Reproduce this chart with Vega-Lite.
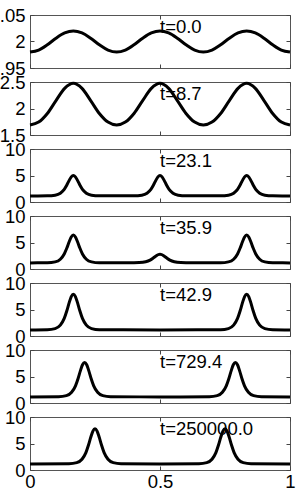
{
  "$schema": "https://vega.github.io/schema/vega-lite/v6.json",
  "autosize": {"type": "none"},
  "padding": {"left": 30, "top": 15, "right": 11, "bottom": 20},
  "background": "white",
  "bounds": "flush",
  "spacing": 14,
  "config": {
    "width": 260,
    "height": 455,
    "view": {"stroke": "#555", "strokeWidth": 1},
    "axis": {"grid": false, "domain": false, "labelFont": "Liberation Sans", "labelFontSize": 18.5, "labelColor": "black", "tickColor": "#444", "tickSize": -4, "labelPadding": 9, "labelFlush": false, "labelOverlap": false}
  },
  "datasets": {
    "p1": [{"x":0,"y":1.98},{"x":0.0333,"y":1.9838},{"x":0.0667,"y":1.9938},{"x":0.1,"y":2.0062},{"x":0.1333,"y":2.0162},{"x":0.1667,"y":2.02},{"x":0.2,"y":2.0162},{"x":0.2333,"y":2.0062},{"x":0.2667,"y":1.9938},{"x":0.3,"y":1.9838},{"x":0.3333,"y":1.98},{"x":0.3667,"y":1.9838},{"x":0.4,"y":1.9938},{"x":0.4333,"y":2.0062},{"x":0.4667,"y":2.0162},{"x":0.5,"y":2.02},{"x":0.5333,"y":2.0162},{"x":0.5667,"y":2.0062},{"x":0.6,"y":1.9938},{"x":0.6333,"y":1.9838},{"x":0.6667,"y":1.98},{"x":0.7,"y":1.9838},{"x":0.7333,"y":1.9938},{"x":0.7667,"y":2.0062},{"x":0.8,"y":2.0162},{"x":0.8333,"y":2.02},{"x":0.8667,"y":2.0162},{"x":0.9,"y":2.0062},{"x":0.9333,"y":1.9938},{"x":0.9667,"y":1.9838},{"x":1,"y":1.98}],
    "p2": [{"x":0,"y":1.689},{"x":0.0333,"y":1.7434},{"x":0.0667,"y":1.9063},{"x":0.1,"y":2.1491},{"x":0.1333,"y":2.3792},{"x":0.1667,"y":2.475},{"x":0.2,"y":2.3792},{"x":0.2333,"y":2.1491},{"x":0.2667,"y":1.9063},{"x":0.3,"y":1.7434},{"x":0.3333,"y":1.689},{"x":0.3667,"y":1.7434},{"x":0.4,"y":1.9063},{"x":0.4333,"y":2.1491},{"x":0.4667,"y":2.3792},{"x":0.5,"y":2.475},{"x":0.5333,"y":2.3792},{"x":0.5667,"y":2.1491},{"x":0.6,"y":1.9063},{"x":0.6333,"y":1.7434},{"x":0.6667,"y":1.689},{"x":0.7,"y":1.7434},{"x":0.7333,"y":1.9063},{"x":0.7667,"y":2.1491},{"x":0.8,"y":2.3792},{"x":0.8333,"y":2.475},{"x":0.8667,"y":2.3792},{"x":0.9,"y":2.1491},{"x":0.9333,"y":1.9063},{"x":0.9667,"y":1.7434},{"x":1,"y":1.689}],
    "p3": [{"x":0,"y":1.15},{"x":0.0667,"y":1.169},{"x":0.0967,"y":1.292},{"x":0.1167,"y":1.662},{"x":0.1317,"y":2.39},{"x":0.1417,"y":3.208},{"x":0.1507,"y":4.084},{"x":0.1587,"y":4.738},{"x":0.1667,"y":5.0},{"x":0.1747,"y":4.738},{"x":0.1827,"y":4.084},{"x":0.1917,"y":3.208},{"x":0.2017,"y":2.39},{"x":0.2167,"y":1.662},{"x":0.2367,"y":1.292},{"x":0.2667,"y":1.169},{"x":0.4,"y":1.169},{"x":0.43,"y":1.292},{"x":0.45,"y":1.662},{"x":0.465,"y":2.39},{"x":0.475,"y":3.208},{"x":0.484,"y":4.084},{"x":0.492,"y":4.738},{"x":0.5,"y":5.0},{"x":0.508,"y":4.738},{"x":0.516,"y":4.084},{"x":0.525,"y":3.208},{"x":0.535,"y":2.39},{"x":0.55,"y":1.662},{"x":0.57,"y":1.292},{"x":0.6,"y":1.169},{"x":0.7333,"y":1.169},{"x":0.7633,"y":1.292},{"x":0.7833,"y":1.662},{"x":0.7983,"y":2.39},{"x":0.8083,"y":3.208},{"x":0.8173,"y":4.084},{"x":0.8253,"y":4.738},{"x":0.8333,"y":5.0},{"x":0.8413,"y":4.738},{"x":0.8493,"y":4.084},{"x":0.8583,"y":3.208},{"x":0.8683,"y":2.39},{"x":0.8833,"y":1.662},{"x":0.9033,"y":1.292},{"x":0.9333,"y":1.169},{"x":1,"y":1.15}],
    "p4": [{"x":0,"y":1.15},{"x":0.0667,"y":1.176},{"x":0.0967,"y":1.344},{"x":0.1167,"y":1.848},{"x":0.1317,"y":2.841},{"x":0.1417,"y":3.956},{"x":0.1507,"y":5.15},{"x":0.1587,"y":6.043},{"x":0.1667,"y":6.4},{"x":0.1747,"y":6.043},{"x":0.1827,"y":5.15},{"x":0.1917,"y":3.956},{"x":0.2017,"y":2.841},{"x":0.2167,"y":1.848},{"x":0.2367,"y":1.344},{"x":0.2667,"y":1.176},{"x":0.38,"y":1.158},{"x":0.42,"y":1.211},{"x":0.445,"y":1.369},{"x":0.462,"y":1.681},{"x":0.473,"y":2.032},{"x":0.483,"y":2.407},{"x":0.492,"y":2.688},{"x":0.5,"y":2.8},{"x":0.508,"y":2.688},{"x":0.517,"y":2.407},{"x":0.527,"y":2.032},{"x":0.538,"y":1.681},{"x":0.555,"y":1.369},{"x":0.58,"y":1.211},{"x":0.62,"y":1.158},{"x":0.7333,"y":1.176},{"x":0.7633,"y":1.344},{"x":0.7833,"y":1.848},{"x":0.7983,"y":2.841},{"x":0.8083,"y":3.956},{"x":0.8173,"y":5.15},{"x":0.8253,"y":6.043},{"x":0.8333,"y":6.4},{"x":0.8413,"y":6.043},{"x":0.8493,"y":5.15},{"x":0.8583,"y":3.956},{"x":0.8683,"y":2.841},{"x":0.8833,"y":1.848},{"x":0.9033,"y":1.344},{"x":0.9333,"y":1.176},{"x":1,"y":1.15}],
    "p5": [{"x":0,"y":1.15},{"x":0.0667,"y":1.184},{"x":0.0967,"y":1.4},{"x":0.1167,"y":2.048},{"x":0.1317,"y":3.324},{"x":0.1417,"y":4.758},{"x":0.1507,"y":6.294},{"x":0.1587,"y":7.441},{"x":0.1667,"y":7.9},{"x":0.1747,"y":7.441},{"x":0.1827,"y":6.294},{"x":0.1917,"y":4.758},{"x":0.2017,"y":3.324},{"x":0.2167,"y":2.048},{"x":0.2367,"y":1.4},{"x":0.2667,"y":1.184},{"x":0.5,"y":1.15},{"x":0.7333,"y":1.184},{"x":0.7633,"y":1.4},{"x":0.7833,"y":2.048},{"x":0.7983,"y":3.324},{"x":0.8083,"y":4.758},{"x":0.8173,"y":6.294},{"x":0.8253,"y":7.441},{"x":0.8333,"y":7.9},{"x":0.8413,"y":7.441},{"x":0.8493,"y":6.294},{"x":0.8583,"y":4.758},{"x":0.8683,"y":3.324},{"x":0.8833,"y":2.048},{"x":0.9033,"y":1.4},{"x":0.9333,"y":1.184},{"x":1,"y":1.15}],
    "p6": [{"x":0,"y":1.15},{"x":0.11,"y":1.183},{"x":0.14,"y":1.391},{"x":0.16,"y":2.015},{"x":0.175,"y":3.243},{"x":0.185,"y":4.624},{"x":0.194,"y":6.103},{"x":0.202,"y":7.208},{"x":0.21,"y":7.65},{"x":0.218,"y":7.208},{"x":0.226,"y":6.103},{"x":0.235,"y":4.624},{"x":0.245,"y":3.243},{"x":0.26,"y":2.015},{"x":0.28,"y":1.391},{"x":0.31,"y":1.183},{"x":0.5,"y":1.15},{"x":0.69,"y":1.183},{"x":0.72,"y":1.391},{"x":0.74,"y":2.015},{"x":0.755,"y":3.243},{"x":0.765,"y":4.624},{"x":0.774,"y":6.103},{"x":0.782,"y":7.208},{"x":0.79,"y":7.65},{"x":0.798,"y":7.208},{"x":0.806,"y":6.103},{"x":0.815,"y":4.624},{"x":0.825,"y":3.243},{"x":0.84,"y":2.015},{"x":0.86,"y":1.391},{"x":0.89,"y":1.183},{"x":1,"y":1.15}],
    "p7": [{"x":0,"y":1.15},{"x":0.15,"y":1.183},{"x":0.18,"y":1.396},{"x":0.2,"y":2.034},{"x":0.215,"y":3.291},{"x":0.225,"y":4.704},{"x":0.234,"y":6.217},{"x":0.242,"y":7.348},{"x":0.25,"y":7.8},{"x":0.258,"y":7.348},{"x":0.266,"y":6.217},{"x":0.275,"y":4.704},{"x":0.285,"y":3.291},{"x":0.3,"y":2.034},{"x":0.32,"y":1.396},{"x":0.35,"y":1.183},{"x":0.5,"y":1.15},{"x":0.65,"y":1.183},{"x":0.68,"y":1.396},{"x":0.7,"y":2.034},{"x":0.715,"y":3.291},{"x":0.725,"y":4.704},{"x":0.734,"y":6.217},{"x":0.742,"y":7.348},{"x":0.75,"y":7.8},{"x":0.758,"y":7.348},{"x":0.766,"y":6.217},{"x":0.775,"y":4.704},{"x":0.785,"y":3.291},{"x":0.8,"y":2.034},{"x":0.82,"y":1.396},{"x":0.85,"y":1.183},{"x":1,"y":1.15}]
  },
  "vconcat": [
    {"width": 260, "height": 53, "resolve": {"axis": {"x": "independent", "y": "independent"}}, "layer": [
      {"data": {"name": "p1"}, "mark": {"type": "line", "color": "black", "strokeWidth": 3, "interpolate": "monotone"},
       "encoding": {"x": {"field": "x", "type": "quantitative", "scale": {"domain": [0, 1]}, "axis": {"values": [0, 0.5, 1], "labels": false, "title": null}},
                    "y": {"field": "y", "type": "quantitative", "scale": {"domain": [1.95, 2.05]}, "axis": {"values": [1.95, 2, 2.05], "format": "~f", "title": null}}}},
      {"data": {"name": "p1"}, "mark": {"type": "line", "opacity": 0},
       "encoding": {"x": {"field": "x", "type": "quantitative", "axis": {"orient": "top", "values": [0, 0.5, 1], "labels": false, "title": null}},
                    "y": {"field": "y", "type": "quantitative", "axis": {"orient": "right", "values": [1.95, 2, 2.05], "labels": false, "title": null}}}},
      {"data": {"values": [{"label": "t=0.0"}]}, "mark": {"type": "text", "align": "left", "baseline": "alphabetic", "dy": 18, "fontSize": 18.5, "font": "Liberation Sans", "color": "black"},
       "encoding": {"x": {"datum": 0.5, "axis": null}, "y": {"datum": 2.05, "axis": null}, "text": {"field": "label"}}}
    ]},
    {"width": 260, "height": 53, "resolve": {"axis": {"x": "independent", "y": "independent"}}, "layer": [
      {"data": {"name": "p2"}, "mark": {"type": "line", "color": "black", "strokeWidth": 3, "interpolate": "monotone"},
       "encoding": {"x": {"field": "x", "type": "quantitative", "scale": {"domain": [0, 1]}, "axis": {"values": [0, 0.5, 1], "labels": false, "title": null}},
                    "y": {"field": "y", "type": "quantitative", "scale": {"domain": [1.5, 2.5]}, "axis": {"values": [1.5, 2, 2.5], "format": "~f", "title": null}}}},
      {"data": {"name": "p2"}, "mark": {"type": "line", "opacity": 0},
       "encoding": {"x": {"field": "x", "type": "quantitative", "axis": {"orient": "top", "values": [0, 0.5, 1], "labels": false, "title": null}},
                    "y": {"field": "y", "type": "quantitative", "axis": {"orient": "right", "values": [1.5, 2, 2.5], "labels": false, "title": null}}}},
      {"data": {"values": [{"label": "t=8.7"}]}, "mark": {"type": "text", "align": "left", "baseline": "alphabetic", "dy": 18, "fontSize": 18.5, "font": "Liberation Sans", "color": "black"},
       "encoding": {"x": {"datum": 0.5, "axis": null}, "y": {"datum": 2.5, "axis": null}, "text": {"field": "label"}}}
    ]},
    {"width": 260, "height": 53, "resolve": {"axis": {"x": "independent", "y": "independent"}}, "layer": [
      {"data": {"name": "p3"}, "mark": {"type": "line", "color": "black", "strokeWidth": 3, "interpolate": "monotone"},
       "encoding": {"x": {"field": "x", "type": "quantitative", "scale": {"domain": [0, 1]}, "axis": {"values": [0, 0.5, 1], "labels": false, "title": null}},
                    "y": {"field": "y", "type": "quantitative", "scale": {"domain": [0, 10]}, "axis": {"values": [0, 5, 10], "format": "~f", "title": null}}}},
      {"data": {"name": "p3"}, "mark": {"type": "line", "opacity": 0},
       "encoding": {"x": {"field": "x", "type": "quantitative", "axis": {"orient": "top", "values": [0, 0.5, 1], "labels": false, "title": null}},
                    "y": {"field": "y", "type": "quantitative", "axis": {"orient": "right", "values": [0, 5, 10], "labels": false, "title": null}}}},
      {"data": {"values": [{"label": "t=23.1"}]}, "mark": {"type": "text", "align": "left", "baseline": "alphabetic", "dy": 18, "fontSize": 18.5, "font": "Liberation Sans", "color": "black"},
       "encoding": {"x": {"datum": 0.5, "axis": null}, "y": {"datum": 10, "axis": null}, "text": {"field": "label"}}}
    ]},
    {"width": 260, "height": 53, "resolve": {"axis": {"x": "independent", "y": "independent"}}, "layer": [
      {"data": {"name": "p4"}, "mark": {"type": "line", "color": "black", "strokeWidth": 3, "interpolate": "monotone"},
       "encoding": {"x": {"field": "x", "type": "quantitative", "scale": {"domain": [0, 1]}, "axis": {"values": [0, 0.5, 1], "labels": false, "title": null}},
                    "y": {"field": "y", "type": "quantitative", "scale": {"domain": [0, 10]}, "axis": {"values": [0, 5, 10], "format": "~f", "title": null}}}},
      {"data": {"name": "p4"}, "mark": {"type": "line", "opacity": 0},
       "encoding": {"x": {"field": "x", "type": "quantitative", "axis": {"orient": "top", "values": [0, 0.5, 1], "labels": false, "title": null}},
                    "y": {"field": "y", "type": "quantitative", "axis": {"orient": "right", "values": [0, 5, 10], "labels": false, "title": null}}}},
      {"data": {"values": [{"label": "t=35.9"}]}, "mark": {"type": "text", "align": "left", "baseline": "alphabetic", "dy": 18, "fontSize": 18.5, "font": "Liberation Sans", "color": "black"},
       "encoding": {"x": {"datum": 0.5, "axis": null}, "y": {"datum": 10, "axis": null}, "text": {"field": "label"}}}
    ]},
    {"width": 260, "height": 53, "resolve": {"axis": {"x": "independent", "y": "independent"}}, "layer": [
      {"data": {"name": "p5"}, "mark": {"type": "line", "color": "black", "strokeWidth": 3, "interpolate": "monotone"},
       "encoding": {"x": {"field": "x", "type": "quantitative", "scale": {"domain": [0, 1]}, "axis": {"values": [0, 0.5, 1], "labels": false, "title": null}},
                    "y": {"field": "y", "type": "quantitative", "scale": {"domain": [0, 10]}, "axis": {"values": [0, 5, 10], "format": "~f", "title": null}}}},
      {"data": {"name": "p5"}, "mark": {"type": "line", "opacity": 0},
       "encoding": {"x": {"field": "x", "type": "quantitative", "axis": {"orient": "top", "values": [0, 0.5, 1], "labels": false, "title": null}},
                    "y": {"field": "y", "type": "quantitative", "axis": {"orient": "right", "values": [0, 5, 10], "labels": false, "title": null}}}},
      {"data": {"values": [{"label": "t=42.9"}]}, "mark": {"type": "text", "align": "left", "baseline": "alphabetic", "dy": 18, "fontSize": 18.5, "font": "Liberation Sans", "color": "black"},
       "encoding": {"x": {"datum": 0.5, "axis": null}, "y": {"datum": 10, "axis": null}, "text": {"field": "label"}}}
    ]},
    {"width": 260, "height": 53, "resolve": {"axis": {"x": "independent", "y": "independent"}}, "layer": [
      {"data": {"name": "p6"}, "mark": {"type": "line", "color": "black", "strokeWidth": 3, "interpolate": "monotone"},
       "encoding": {"x": {"field": "x", "type": "quantitative", "scale": {"domain": [0, 1]}, "axis": {"values": [0, 0.5, 1], "labels": false, "title": null}},
                    "y": {"field": "y", "type": "quantitative", "scale": {"domain": [0, 10]}, "axis": {"values": [0, 5, 10], "format": "~f", "title": null}}}},
      {"data": {"name": "p6"}, "mark": {"type": "line", "opacity": 0},
       "encoding": {"x": {"field": "x", "type": "quantitative", "axis": {"orient": "top", "values": [0, 0.5, 1], "labels": false, "title": null}},
                    "y": {"field": "y", "type": "quantitative", "axis": {"orient": "right", "values": [0, 5, 10], "labels": false, "title": null}}}},
      {"data": {"values": [{"label": "t=729.4"}]}, "mark": {"type": "text", "align": "left", "baseline": "alphabetic", "dy": 18, "fontSize": 18.5, "font": "Liberation Sans", "color": "black"},
       "encoding": {"x": {"datum": 0.5, "axis": null}, "y": {"datum": 10, "axis": null}, "text": {"field": "label"}}}
    ]},
    {"width": 260, "height": 53, "resolve": {"axis": {"x": "independent", "y": "independent"}}, "layer": [
      {"data": {"name": "p7"}, "mark": {"type": "line", "color": "black", "strokeWidth": 3, "interpolate": "monotone"},
       "encoding": {"x": {"field": "x", "type": "quantitative", "scale": {"domain": [0, 1]}, "axis": {"values": [0, 0.5, 1], "format": "~f", "title": null, "labelPadding": 6}},
                    "y": {"field": "y", "type": "quantitative", "scale": {"domain": [0, 10]}, "axis": {"values": [0, 5, 10], "format": "~f", "title": null}}}},
      {"data": {"name": "p7"}, "mark": {"type": "line", "opacity": 0},
       "encoding": {"x": {"field": "x", "type": "quantitative", "axis": {"orient": "top", "values": [0, 0.5, 1], "labels": false, "title": null}},
                    "y": {"field": "y", "type": "quantitative", "axis": {"orient": "right", "values": [0, 5, 10], "labels": false, "title": null}}}},
      {"data": {"values": [{"label": "t=250000.0"}]}, "mark": {"type": "text", "align": "left", "baseline": "alphabetic", "dy": 18, "fontSize": 18.5, "font": "Liberation Sans", "color": "black"},
       "encoding": {"x": {"datum": 0.5, "axis": null}, "y": {"datum": 10, "axis": null}, "text": {"field": "label"}}}
    ]}
  ]
}
